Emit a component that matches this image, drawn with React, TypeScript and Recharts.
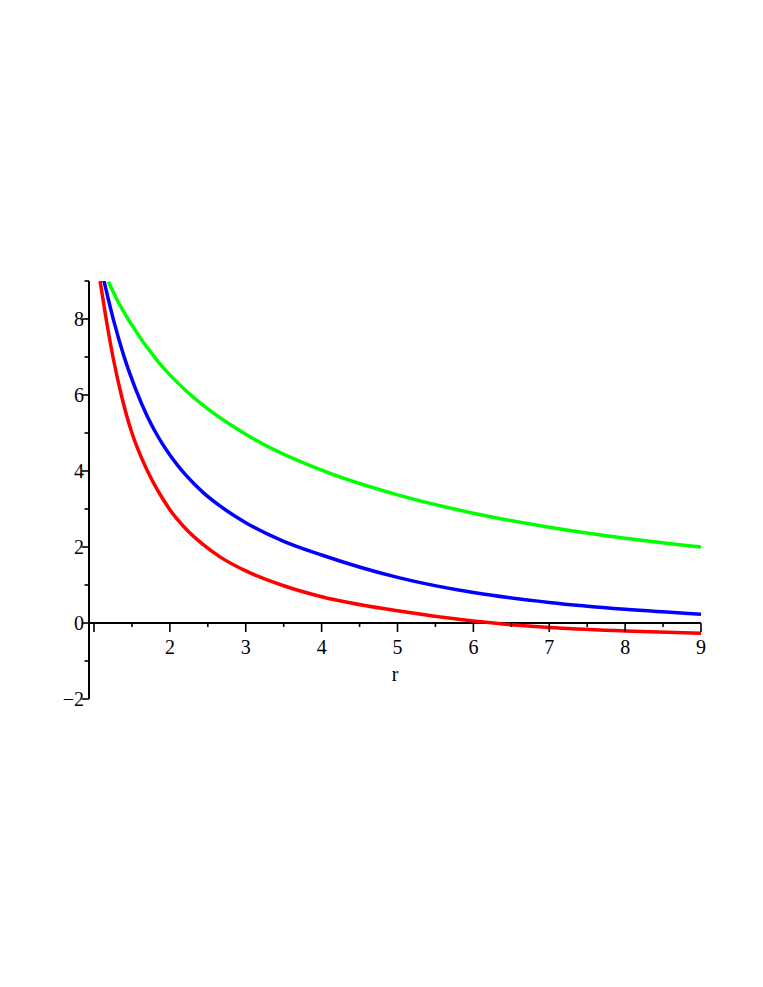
import React from 'react';
import { LineChart, Line, XAxis, YAxis, ReferenceLine } from 'recharts';

// ---- data ----
const redR = [1.08, 1.16, 1.25, 1.36, 1.5, 1.6, 1.7, 1.8, 1.9, 2.0, 2.2, 2.44, 2.66, 3, 3.5, 4, 5, 6, 7, 8, 9];
const redY = [9.0, 8.0, 7.0, 6.0, 5.0, 4.47, 4.02, 3.63, 3.29, 2.98, 2.5, 2.06, 1.74, 1.37, 0.98, 0.69, 0.32, 0.05, -0.12, -0.21, -0.27];

const blueR = [1.12, 1.26, 1.39, 1.55, 1.7, 1.8, 1.9, 2.0, 2.11, 2.22, 2.44, 2.66, 3, 3.5, 4, 5, 6, 7, 8, 9];
const blueY = [9.1, 7.95, 7.05, 6.15, 5.45, 5.06, 4.72, 4.42, 4.13, 3.87, 3.43, 3.08, 2.64, 2.15, 1.79, 1.2, 0.8, 0.54, 0.36, 0.23];

const greenR = [1.19, 1.3, 1.47, 1.82, 2.0, 2.22, 2.53, 3, 3.19, 4, 5, 6, 7, 8, 9];
const greenY = [8.98, 8.52, 7.93, 6.94, 6.53, 6.1, 5.59, 4.97, 4.75, 4.02, 3.37, 2.89, 2.52, 2.23, 2.0];

const xTicks = [1, 1.5, 2, 2.5, 3, 3.5, 4, 4.5, 5, 5.5, 6, 6.5, 7, 7.5, 8, 8.5, 9];
const xLabels = [2, 3, 4, 5, 6, 7, 8, 9];
const yTicks = [-2, -1, 0, 1, 2, 3, 4, 5, 6, 7, 8, 9];
const yLabels = [-2, 0, 2, 4, 6, 8];
const xTitle = 'r';

const X_MIN = 0.934;
const X_MAX = 9;
const Y_MIN = -2;
const Y_MAX = 9;

// ---- layout ----
const W = 747;
const H = 720;
const MARGIN = { top: 273, right: 54, left: 0, bottom: 9 };
const X_AXIS_H = 20;
const Y_AXIS_W = 81;
const PLOT_H = H - MARGIN.top - MARGIN.bottom - X_AXIS_H;
const ZERO_FROM_BOTTOM = (PLOT_H * (0 - Y_MIN)) / (Y_MAX - Y_MIN);
const FONT = '"Liberation Serif", "Times New Roman", serif';
const FS = 20;
const LW = 3.5;

const toPts = (rs: number[], ys: number[]) => rs.map((r, i) => ({ r, y: ys[i] }));
const redData = toPts(redR, redY);
const blueData = toPts(blueR, blueY);
const greenData = toPts(greenR, greenY);

const fmt = (v: number) => (v < 0 ? '\u2212' + Math.abs(v) : String(v));

const XTick = (props: any) => {
  const { x, y, payload } = props;
  const v = payload.value as number;
  const y0 = y - ZERO_FROM_BOTTOM;
  const major = Number.isInteger(v);
  return (
    <g>
      <line x1={x} x2={x} y1={y0} y2={y0 + (major ? 9 : 4)} stroke="#000" strokeWidth={1.6} />
      {xLabels.includes(v) && (
        <text x={x} y={y0 + 30.5} textAnchor="middle" fontSize={FS} fontFamily={FONT} fill="#000">
          {fmt(v)}
        </text>
      )}
    </g>
  );
};

const YTick = (props: any) => {
  const { x, y, payload } = props;
  const v = payload.value as number;
  const major = yLabels.includes(v);
  return (
    <g>
      <line x1={x - (major ? 7 : 4.5)} x2={x} y1={y} y2={y} stroke="#000" strokeWidth={1.6} />
      {major && (
        <text x={x - 5} y={y} dy="0.36em" textAnchor="end" fontSize={FS} fontFamily={FONT} fill="#000">
          {fmt(v)}
        </text>
      )}
    </g>
  );
};

export default function App() {
  return (
    <div style={{ width: W, height: H }}>
      <LineChart width={W} height={H} margin={MARGIN}>
        <XAxis
          type="number"
          dataKey="r"
          domain={[X_MIN, X_MAX]}
          allowDataOverflow
          ticks={xTicks}
          interval={0}
          tick={<XTick />}
          tickSize={0}
          tickMargin={0}
          tickLine={false}
          axisLine={false}
          height={X_AXIS_H}
        />
        <YAxis
          type="number"
          domain={[Y_MIN, Y_MAX]}
          allowDataOverflow
          ticks={yTicks}
          interval={0}
          tick={<YTick />}
          tickSize={0}
          tickMargin={0}
          tickLine={false}
          axisLine={{ stroke: '#000', strokeWidth: 2 }}
          width={Y_AXIS_W}
        />
        <ReferenceLine
          y={0}
          stroke="#000"
          strokeWidth={2}
          label={{ value: xTitle, position: 'bottom', offset: 44, fontSize: FS, fill: '#000', fontFamily: FONT }}
        />
        <Line data={greenData} dataKey="y" type="monotone" stroke="#00ff00" strokeWidth={LW} dot={false} isAnimationActive={false} />
        <Line data={blueData} dataKey="y" type="monotone" stroke="#0000ff" strokeWidth={LW} dot={false} isAnimationActive={false} />
        <Line data={redData} dataKey="y" type="monotone" stroke="#ff0000" strokeWidth={LW} dot={false} isAnimationActive={false} />
      </LineChart>
    </div>
  );
}
